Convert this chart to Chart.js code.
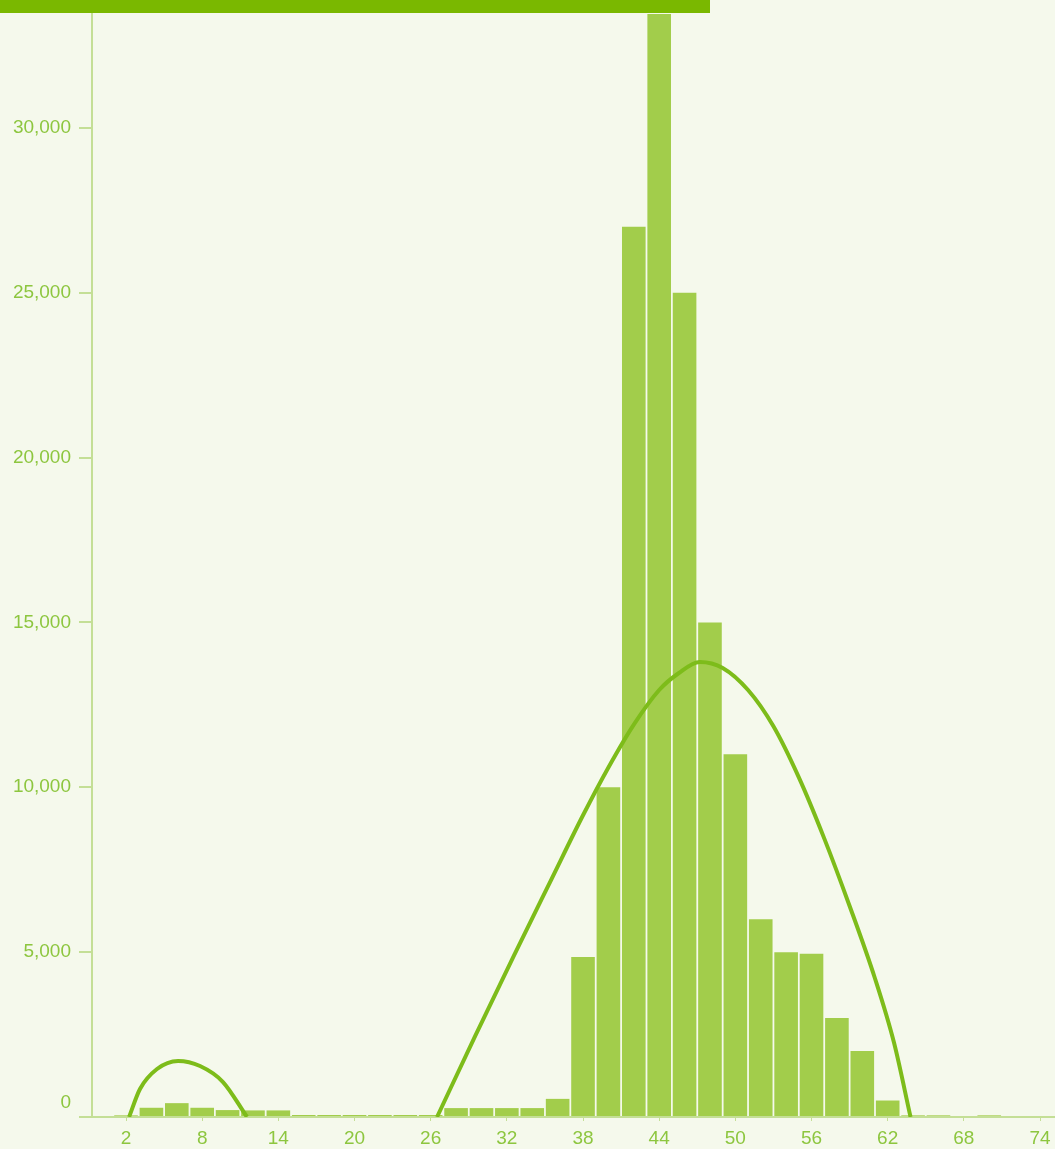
<!DOCTYPE html>
<html>
<head>
<meta charset="utf-8">
<script src="https://cdn.jsdelivr.net/npm/chart.js@4/dist/chart.umd.min.js"></script>
<style>
  html, body { margin: 0; padding: 0; background: #f5f9ec; }
  #wrap { position: relative; width: 1055px; height: 1149px; }
  #band { position: absolute; left: 0; top: 0; width: 710px; height: 13px; background: #7ab800; z-index: 2; }
  canvas { position: absolute; left: 0; top: 0; }
</style>
</head>
<body>
<div id="wrap">
  <div id="band"></div>
  <canvas id="c" width="1055" height="1149"></canvas>
</div>
<script>
// ---- data ----
const binCenters = [2,4,6,8,10,12,14,16,18,20,22,24,26,28,30,32,34,36,38,40,42,44,46,48,50,52,54,56,58,60,62,64,66,68,70,72];
const binCounts  = [50,280,420,280,210,200,200,60,60,60,60,60,60,270,270,270,270,550,4850,10000,27000,35000,25000,15000,11000,6000,5000,4950,3000,2000,500,50,50,0,50,0];

const curve1X = [2.24, 3.1, 4.44, 6.1, 7.83, 9.64, 11.53];
const curve1Y = [0, 850, 1455, 1700, 1545, 1060, 0];

const curve2X = [26.5, 29.5, 32.5, 35.5, 38.0, 40.0, 42.0, 44.0, 45.5, 47.2, 49.0, 51.0, 53.0, 55.0, 57.0, 59.0, 61.0, 62.5, 63.8];
const curve2Y = [0, 2450, 4850, 7200, 9150, 10600, 11900, 12950, 13450, 13800, 13620, 12950, 11850, 10300, 8450, 6400, 4200, 2250, 0];

const xTicks = [2,8,14,20,26,32,38,44,50,56,62,68,74];
const yTicks = [0,5000,10000,15000,20000,25000,30000];

const barColor = '#a2cd4b';
const lineColor = '#7dbc1a';
const labelColor = '#8dc63f';
const axisColor = '#c4df96';
const FONT = '"Liberation Sans", Arial, sans-serif';

const zeroLabel = {
  id: 'zeroLabel',
  afterDraw(chart) {
    const ctx = chart.ctx;
    const y = chart.scales.y.getPixelForValue(0);
    ctx.save();
    ctx.font = '19px ' + FONT;
    ctx.fillStyle = labelColor;
    ctx.textAlign = 'right';
    ctx.textBaseline = 'middle';
    ctx.fillText('0', 71, y - 14);
    ctx.restore();
  }
};

new Chart(document.getElementById('c'), {
  data: {
    datasets: [
      {
        type: 'line',
        data: curve1X.map((x, i) => ({x, y: curve1Y[i]})),
        borderColor: lineColor, borderWidth: 4, pointRadius: 0,
        cubicInterpolationMode: 'monotone', fill: false, order: 0
      },
      {
        type: 'line',
        data: curve2X.map((x, i) => ({x, y: curve2Y[i]})),
        borderColor: lineColor, borderWidth: 4, pointRadius: 0,
        cubicInterpolationMode: 'monotone', fill: false, order: 0
      },
      {
        type: 'bar',
        data: binCenters.map((x, i) => ({x, y: binCounts[i]})),
        backgroundColor: barColor, borderWidth: 0,
        barPercentage: 0.93, categoryPercentage: 1.0, order: 1
      }
    ]
  },
  options: {
    responsive: false,
    animation: false,
    layout: { padding: { top: 14, right: 0, left: 0, bottom: 0 } },
    plugins: { legend: { display: false }, tooltip: { enabled: false } },
    scales: {
      x: {
        type: 'linear',
        offset: false,
        min: -0.68, max: 75.18,
        afterBuildTicks: (s) => { s.ticks = xTicks.map(v => ({value: v})); },
        afterFit: (s) => { s.height = 32; s.paddingLeft = 0; s.paddingRight = 0; },
        grid: { offset: false, drawOnChartArea: false, drawTicks: true, tickLength: 4, color: axisColor },
        border: { display: true, color: axisColor, width: 2 },
        ticks: { color: labelColor, font: { family: FONT, size: 19 }, padding: 6, maxRotation: 0, autoSkip: false }
      },
      y: {
        min: 0, max: 33450,
        afterBuildTicks: (s) => { s.ticks = yTicks.map(v => ({value: v})); },
        afterFit: (s) => { s.width = 92; s.paddingTop = 0; s.paddingBottom = 0; },
        grid: { drawOnChartArea: false, drawTicks: true, tickLength: 13, color: axisColor, lineWidth: 2 },
        border: { display: true, color: axisColor, width: 2 },
        ticks: {
          color: labelColor, font: { family: FONT, size: 19 }, padding: 8,
          callback: (v) => v === 0 ? '' : v.toLocaleString('en-US')
        }
      }
    }
  },
  plugins: [zeroLabel]
});
</script>
</body>
</html>
